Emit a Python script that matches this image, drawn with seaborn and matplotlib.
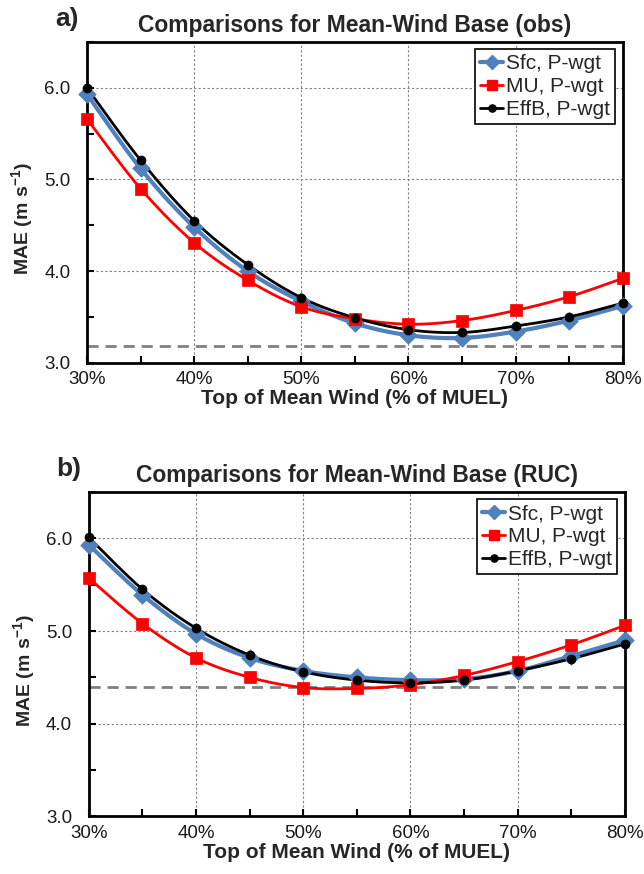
import numpy as np
import pandas as pd
import matplotlib
matplotlib.use("Agg")
import matplotlib.pyplot as plt
from matplotlib.lines import Line2D
from matplotlib.ticker import MultipleLocator, FuncFormatter
import seaborn as sns

# Data
pct = [30, 35, 40, 45, 50, 55, 60, 65, 70, 75, 80]

a_sfc = [5.93, 5.12, 4.48, 4.00, 3.67, 3.43, 3.30, 3.27, 3.34, 3.46, 3.62]
a_mu = [5.66, 4.90, 4.31, 3.90, 3.61, 3.48, 3.42, 3.46, 3.57, 3.72, 3.92]
a_effb = [6.00, 5.21, 4.55, 4.07, 3.71, 3.49, 3.36, 3.33, 3.40, 3.50, 3.65]
a_ref = 3.18

b_sfc = [5.93, 5.39, 4.97, 4.71, 4.57, 4.50, 4.47, 4.48, 4.57, 4.73, 4.90]
b_mu = [5.57, 5.08, 4.71, 4.50, 4.39, 4.38, 4.42, 4.52, 4.67, 4.85, 5.06]
b_effb = [6.01, 5.45, 5.03, 4.74, 4.56, 4.47, 4.44, 4.47, 4.57, 4.70, 4.86]
b_ref = 4.40

series_names = ["Sfc, P-wgt", "MU, P-wgt", "EffB, P-wgt"]
titles = ["Comparisons for Mean-Wind Base (obs)", "Comparisons for Mean-Wind Base (RUC)"]
letters = ["a)", "b)"]

BLUE = "#4F81BD"
RED = "#FF0000"
BLACK = "#000000"
styles = [
    dict(color=BLUE, marker="D", s=80, lw=3.0),
    dict(color=RED, marker="s", s=80, lw=2.0),
    dict(color=BLACK, marker="o", s=42, lw=2.0),
]

sns.set_style("white")
plt.rcParams["font.family"] = ["Liberation Sans", "DejaVu Sans"]
plt.rcParams["mathtext.fontset"] = "custom"
plt.rcParams["mathtext.rm"] = "Liberation Sans"
plt.rcParams["mathtext.bf"] = "Liberation Sans:bold"


def smooth(x, y, n=24):
    # Catmull-Rom curve through the points (Excel style smoothed line)
    P = np.column_stack([x, y]).astype(float)
    P = np.vstack([P[0], P, P[-1]])
    out = []
    t = np.linspace(0, 1, n)[:, None]
    for i in range(1, len(P) - 2):
        p0, p1, p2, p3 = P[i - 1], P[i], P[i + 1], P[i + 2]
        seg = 0.5 * ((2 * p1) + (-p0 + p2) * t
                     + (2 * p0 - 5 * p1 + 4 * p2 - p3) * t ** 2
                     + (-p0 + 3 * p1 - 3 * p2 + p3) * t ** 3)
        out.append(seg if i == len(P) - 3 else seg[:-1])
    seg = np.vstack(out)
    return seg[:, 0], seg[:, 1]


fig = plt.figure(figsize=(6.44, 8.74), dpi=100)
ax_a = fig.add_axes([0.135, 0.585, 0.832, 0.367])
ax_b = fig.add_axes([0.138, 0.066, 0.832, 0.371])

panels = [
    (ax_a, [a_sfc, a_mu, a_effb], a_ref),
    (ax_b, [b_sfc, b_mu, b_effb], b_ref),
]

for k, (ax, data, ref) in enumerate(panels):
    ax.set_xlim(30, 80)
    ax.set_ylim(3.0, 6.5)

    ax.xaxis.set_major_locator(MultipleLocator(10))
    ax.xaxis.set_minor_locator(MultipleLocator(5))
    ax.yaxis.set_major_locator(MultipleLocator(1.0))
    ax.yaxis.set_minor_locator(MultipleLocator(0.5))
    ax.xaxis.set_major_formatter(FuncFormatter(lambda v, p: f"{v:.0f}%"))
    ax.yaxis.set_major_formatter(FuncFormatter(lambda v, p: f"{v:.1f}"))
    ax.tick_params(which="both", direction="in", length=5, width=1.5,
                   labelsize=13.5, colors="black")
    ax.tick_params(axis="y", which="both", left=True, right=False, pad=12)
    ax.tick_params(axis="x", which="both", bottom=True, top=False, pad=6)
    for lab in ax.get_yticklabels() + ax.get_xticklabels():
        lab.set_color("#1a1a1a")

    ax.grid(True, which="major", color="#808080", linestyle=(0, (2, 2)), linewidth=0.8)
    ax.set_axisbelow(True)
    for sp in ax.spines.values():
        sp.set_color("black")
        sp.set_linewidth(2)

    ax.axhline(ref, color="#808080", linestyle=(0, (4, 2.5)), linewidth=2, zorder=1)

    handles = []
    for name, vals, st in zip(series_names, data, styles):
        xs, ys = smooth(pct, vals)
        df_line = pd.DataFrame({"x": xs, "y": ys})
        sns.lineplot(data=df_line, x="x", y="y", color=st["color"], linewidth=st["lw"],
                     sort=False, estimator=None, ax=ax, zorder=3)
        df_pts = pd.DataFrame({"x": pct, "y": vals})
        sns.scatterplot(data=df_pts, x="x", y="y", marker=st["marker"], s=st["s"],
                        color=st["color"], edgecolor=st["color"], linewidth=0.5,
                        ax=ax, zorder=4, clip_on=False)
        handles.append(Line2D([0], [0], color=st["color"], linewidth=st["lw"],
                              marker=st["marker"], markersize=np.sqrt(st["s"]) * 0.8,
                              markeredgecolor=st["color"]))

    leg = ax.legend(handles, series_names, loc="upper right", fontsize=15,
                    frameon=True, fancybox=False, framealpha=1, edgecolor="black",
                    handlelength=1.1, handletextpad=0.15, borderpad=0.25,
                    labelspacing=0.18, borderaxespad=0.35)
    leg.get_frame().set_linewidth(1.2)

    ax.set_xlabel("Top of Mean Wind (% of MUEL)", fontsize=15, fontweight="bold", labelpad=1)
    ax.set_ylabel(r"MAE (m s$^{\mathbf{-1}}$)", fontsize=14, fontweight="bold")
    ax.yaxis.set_label_coords(-0.095, 0.45)
    ax.set_title(titles[k], fontsize=16.5, fontweight="bold", pad=7)
    ax.text(-0.06, 1.035, letters[k], transform=ax.transAxes, fontsize=19,
            fontweight="bold", ha="left", va="bottom")

fig.savefig("out.png", dpi=100, facecolor="white")
